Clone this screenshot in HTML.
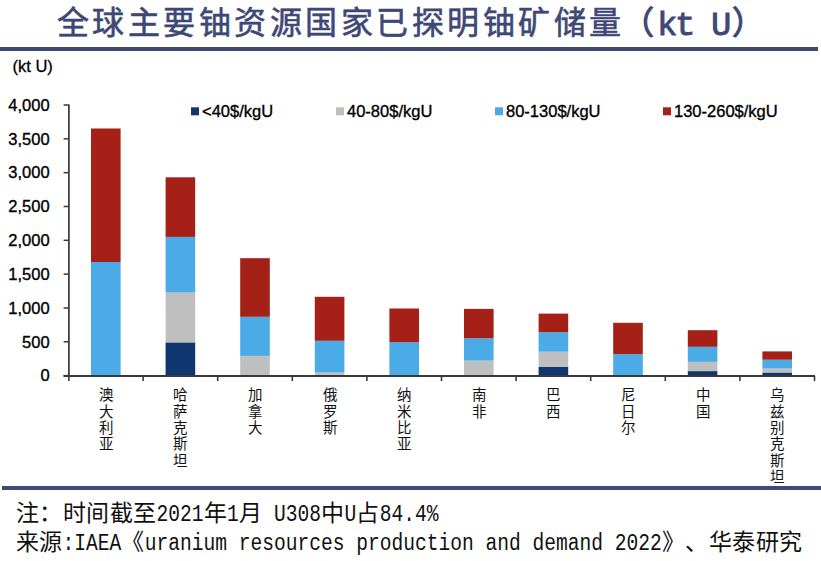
<!DOCTYPE html>
<html lang="zh-CN"><head><meta charset="utf-8"><title>全球主要铀资源国家已探明铀矿储量</title>
<style>
html,body{margin:0;padding:0;background:#fff;}
body{width:821px;height:561px;position:relative;overflow:hidden;font-family:"Liberation Sans",sans-serif;}
.title{position:absolute;left:57px;top:3.3px;font-size:32px;line-height:40px;font-weight:400;letter-spacing:3.47px;color:#3e4876;-webkit-text-stroke:0.6px #3e4876;white-space:nowrap;}
.tm{position:absolute;top:6px;font-family:"Liberation Mono",monospace;font-size:34px;line-height:40px;font-weight:normal;color:#3e4876;-webkit-text-stroke:0.9px #3e4876;white-space:nowrap;}
.hr{position:absolute;left:0;height:4px;background:#3f4975;}
.ft .c{font-family:"Liberation Sans",sans-serif;font-size:23px;fill:#111;}
.ft .mo{font-family:"Liberation Mono",monospace;font-size:23px;fill:#111;}
svg{position:absolute;left:0;top:0;}
.yl text{font-family:"Liberation Sans",sans-serif;font-size:16.5px;fill:#000;stroke:#000;stroke-width:0.35px;}
.xl text{font-family:"Liberation Serif",serif;font-size:14.5px;fill:#111;}
.lg text{font-family:"Liberation Sans",sans-serif;font-size:16.5px;fill:#000;stroke:#000;stroke-width:0.35px;}
.unit{font-family:"Liberation Sans",sans-serif;font-size:16.5px;fill:#000;stroke:#000;stroke-width:0.3px;}
</style></head><body>
<div class="title">全球主要铀资源国家已探明铀矿储量</div>
<div class="title" style="left:621.5px;-webkit-text-stroke-width:1.1px;">（</div>
<div class="tm" style="left:657px;">k</div><div class="tm" style="left:675px;">t</div><div class="tm" style="left:711px;">U</div>
<div class="title" style="left:732px;-webkit-text-stroke-width:1.1px;">）</div>
<div class="hr" style="top:47px;width:818px;"></div>
<svg width="821" height="561" viewBox="0 0 821 561">
<text class="unit" x="12.5" y="71.6">(kt U)</text>
<g><rect x="91.00" y="262.00" width="29.60" height="113.60" fill="#4aabe6"/><rect x="91.00" y="128.50" width="29.60" height="133.50" fill="#a52016"/><rect x="165.60" y="342.40" width="29.60" height="33.20" fill="#10366f"/><rect x="165.60" y="292.50" width="29.60" height="49.90" fill="#bfbfbf"/><rect x="165.60" y="236.90" width="29.60" height="55.60" fill="#4aabe6"/><rect x="165.60" y="177.30" width="29.60" height="59.60" fill="#a52016"/><rect x="240.20" y="355.90" width="29.60" height="19.70" fill="#bfbfbf"/><rect x="240.20" y="316.80" width="29.60" height="39.10" fill="#4aabe6"/><rect x="240.20" y="258.20" width="29.60" height="58.60" fill="#a52016"/><rect x="314.80" y="372.50" width="29.60" height="3.10" fill="#bfbfbf"/><rect x="314.80" y="340.80" width="29.60" height="31.70" fill="#4aabe6"/><rect x="314.80" y="296.80" width="29.60" height="44.00" fill="#a52016"/><rect x="389.40" y="342.20" width="29.60" height="33.40" fill="#4aabe6"/><rect x="389.40" y="308.50" width="29.60" height="33.70" fill="#a52016"/><rect x="464.00" y="360.60" width="29.60" height="15.00" fill="#bfbfbf"/><rect x="464.00" y="338.30" width="29.60" height="22.30" fill="#4aabe6"/><rect x="464.00" y="308.90" width="29.60" height="29.40" fill="#a52016"/><rect x="538.60" y="366.70" width="29.60" height="8.90" fill="#10366f"/><rect x="538.60" y="351.70" width="29.60" height="15.00" fill="#bfbfbf"/><rect x="538.60" y="332.20" width="29.60" height="19.50" fill="#4aabe6"/><rect x="538.60" y="313.60" width="29.60" height="18.60" fill="#a52016"/><rect x="613.20" y="354.20" width="29.60" height="21.40" fill="#4aabe6"/><rect x="613.20" y="322.80" width="29.60" height="31.40" fill="#a52016"/><rect x="687.80" y="371.10" width="29.60" height="4.50" fill="#10366f"/><rect x="687.80" y="361.90" width="29.60" height="9.20" fill="#bfbfbf"/><rect x="687.80" y="346.80" width="29.60" height="15.10" fill="#4aabe6"/><rect x="687.80" y="330.20" width="29.60" height="16.60" fill="#a52016"/><rect x="762.40" y="372.50" width="29.60" height="3.10" fill="#10366f"/><rect x="762.40" y="368.50" width="29.60" height="4.00" fill="#bfbfbf"/><rect x="762.40" y="359.70" width="29.60" height="8.80" fill="#4aabe6"/><rect x="762.40" y="351.40" width="29.60" height="8.30" fill="#a52016"/></g>
<g><line x1="68.9" y1="104.6" x2="68.9" y2="375.9" stroke="#383838" stroke-width="1.7"/><line x1="63.60000000000001" y1="375.60" x2="68.9" y2="375.60" stroke="#383838" stroke-width="1.5"/><line x1="63.60000000000001" y1="341.78" x2="68.9" y2="341.78" stroke="#383838" stroke-width="1.5"/><line x1="63.60000000000001" y1="307.95" x2="68.9" y2="307.95" stroke="#383838" stroke-width="1.5"/><line x1="63.60000000000001" y1="274.12" x2="68.9" y2="274.12" stroke="#383838" stroke-width="1.5"/><line x1="63.60000000000001" y1="240.30" x2="68.9" y2="240.30" stroke="#383838" stroke-width="1.5"/><line x1="63.60000000000001" y1="206.48" x2="68.9" y2="206.48" stroke="#383838" stroke-width="1.5"/><line x1="63.60000000000001" y1="172.65" x2="68.9" y2="172.65" stroke="#383838" stroke-width="1.5"/><line x1="63.60000000000001" y1="138.82" x2="68.9" y2="138.82" stroke="#383838" stroke-width="1.5"/><line x1="63.60000000000001" y1="105.00" x2="68.9" y2="105.00" stroke="#383838" stroke-width="1.5"/><line x1="63.60000000000001" y1="375.9" x2="815.0" y2="375.9" stroke="#383838" stroke-width="2"/><line x1="68.90" y1="375.9" x2="68.90" y2="381.09999999999997" stroke="#383838" stroke-width="1.6"/><line x1="143.10" y1="375.9" x2="143.10" y2="381.09999999999997" stroke="#383838" stroke-width="1.6"/><line x1="217.70" y1="375.9" x2="217.70" y2="381.09999999999997" stroke="#383838" stroke-width="1.6"/><line x1="292.30" y1="375.9" x2="292.30" y2="381.09999999999997" stroke="#383838" stroke-width="1.6"/><line x1="366.90" y1="375.9" x2="366.90" y2="381.09999999999997" stroke="#383838" stroke-width="1.6"/><line x1="441.50" y1="375.9" x2="441.50" y2="381.09999999999997" stroke="#383838" stroke-width="1.6"/><line x1="516.10" y1="375.9" x2="516.10" y2="381.09999999999997" stroke="#383838" stroke-width="1.6"/><line x1="590.70" y1="375.9" x2="590.70" y2="381.09999999999997" stroke="#383838" stroke-width="1.6"/><line x1="665.30" y1="375.9" x2="665.30" y2="381.09999999999997" stroke="#383838" stroke-width="1.6"/><line x1="739.90" y1="375.9" x2="739.90" y2="381.09999999999997" stroke="#383838" stroke-width="1.6"/><line x1="814.50" y1="375.9" x2="814.50" y2="381.09999999999997" stroke="#383838" stroke-width="1.6"/></g>
<g class="yl"><text x="49.6" y="381.40" text-anchor="end">0</text><text x="49.6" y="347.58" text-anchor="end">500</text><text x="49.6" y="313.75" text-anchor="end">1,000</text><text x="49.6" y="279.93" text-anchor="end">1,500</text><text x="49.6" y="246.10" text-anchor="end">2,000</text><text x="49.6" y="212.28" text-anchor="end">2,500</text><text x="49.6" y="178.45" text-anchor="end">3,000</text><text x="49.6" y="144.62" text-anchor="end">3,500</text><text x="49.6" y="110.80" text-anchor="end">4,000</text></g>
<g class="xl"><text x="105.80" y="400.10" text-anchor="middle">澳</text><text x="105.80" y="416.50" text-anchor="middle">大</text><text x="105.80" y="432.90" text-anchor="middle">利</text><text x="105.80" y="449.30" text-anchor="middle">亚</text><text x="180.40" y="400.10" text-anchor="middle">哈</text><text x="180.40" y="416.50" text-anchor="middle">萨</text><text x="180.40" y="432.90" text-anchor="middle">克</text><text x="180.40" y="449.30" text-anchor="middle">斯</text><text x="180.40" y="465.70" text-anchor="middle">坦</text><text x="255.00" y="400.10" text-anchor="middle">加</text><text x="255.00" y="416.50" text-anchor="middle">拿</text><text x="255.00" y="432.90" text-anchor="middle">大</text><text x="329.60" y="400.10" text-anchor="middle">俄</text><text x="329.60" y="416.50" text-anchor="middle">罗</text><text x="329.60" y="432.90" text-anchor="middle">斯</text><text x="404.20" y="400.10" text-anchor="middle">纳</text><text x="404.20" y="416.50" text-anchor="middle">米</text><text x="404.20" y="432.90" text-anchor="middle">比</text><text x="404.20" y="449.30" text-anchor="middle">亚</text><text x="478.80" y="400.10" text-anchor="middle">南</text><text x="478.80" y="416.50" text-anchor="middle">非</text><text x="553.40" y="400.10" text-anchor="middle">巴</text><text x="553.40" y="416.50" text-anchor="middle">西</text><text x="628.00" y="400.10" text-anchor="middle">尼</text><text x="628.00" y="416.50" text-anchor="middle">日</text><text x="628.00" y="432.90" text-anchor="middle">尔</text><text x="702.60" y="400.10" text-anchor="middle">中</text><text x="702.60" y="416.50" text-anchor="middle">国</text><text x="777.20" y="400.10" text-anchor="middle">乌</text><text x="777.20" y="416.50" text-anchor="middle">兹</text><text x="777.20" y="432.90" text-anchor="middle">别</text><text x="777.20" y="449.30" text-anchor="middle">克</text><text x="777.20" y="465.70" text-anchor="middle">斯</text><text x="777.20" y="482.10" text-anchor="middle">坦</text></g>
<g class="lg"><rect x="191" y="107.3" width="8" height="8" fill="#10366f"/><text x="202" y="116.7">&lt;40$/kgU</text><rect x="336" y="107.3" width="8" height="8" fill="#bfbfbf"/><text x="347" y="116.7">40-80$/kgU</text><rect x="495" y="107.3" width="8" height="8" fill="#4aabe6"/><text x="506" y="116.7">80-130$/kgU</text><rect x="663" y="107.3" width="8" height="8" fill="#a52016"/><text x="674" y="116.7">130-260$/kgU</text></g>
</svg>
<div class="hr" style="top:486px;left:2px;width:819px;"></div>
<svg width="821" height="561" viewBox="0 0 821 561" class="ft"><text class="c" x="15.50" y="521" letter-spacing="0.5">注：时间截至</text><text class="mo" x="156.50" y="521" textLength="47.00" lengthAdjust="spacingAndGlyphs">2021</text><text class="c" x="203.50" y="521" letter-spacing="0.5">年</text><text class="mo" x="227.00" y="521" textLength="11.75" lengthAdjust="spacingAndGlyphs">1</text><text class="c" x="238.75" y="521" letter-spacing="0.5">月</text><text class="mo" x="274.00" y="521" textLength="47.00" lengthAdjust="spacingAndGlyphs">U308</text><text class="c" x="321.00" y="521" letter-spacing="0.5">中</text><text class="mo" x="344.50" y="521" textLength="11.75" lengthAdjust="spacingAndGlyphs">U</text><text class="c" x="356.25" y="521" letter-spacing="0.5">占</text><text class="mo" x="379.75" y="521" textLength="58.75" lengthAdjust="spacingAndGlyphs">84.4%</text><text class="c" x="15.50" y="549.5" letter-spacing="0.5">来源</text><text class="mo" x="62.50" y="549.5" textLength="58.75" lengthAdjust="spacingAndGlyphs">:IAEA</text><text class="c" x="121.25" y="549.5" letter-spacing="0.5">《</text><text class="mo" x="144.75" y="549.5" textLength="517.00" lengthAdjust="spacingAndGlyphs">uranium resources production and demand 2022</text><text class="c" x="661.75" y="549.5" letter-spacing="0.5">》</text><text class="c" x="685.25" y="549.5" letter-spacing="0.5">、</text><text class="c" x="708.75" y="549.5" letter-spacing="0.5">华泰研究</text></svg>
</body></html>
